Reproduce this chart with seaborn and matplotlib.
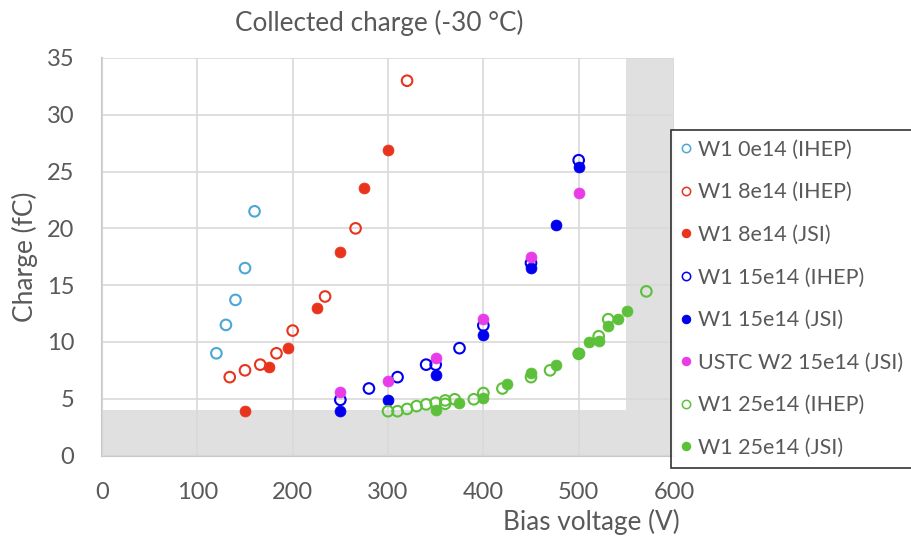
import matplotlib
matplotlib.use("Agg")
import matplotlib.pyplot as plt
import seaborn as sns
import pandas as pd
from matplotlib.lines import Line2D

# ---- data ----
w1_0e14_ihep_v = [120, 130, 140, 150, 160]
w1_0e14_ihep_q = [9.0, 11.5, 13.7, 16.5, 21.5]

w1_8e14_ihep_v = [134, 150, 166, 183, 200, 234, 266, 320]
w1_8e14_ihep_q = [6.9, 7.5, 8.0, 9.0, 11.0, 14.0, 20.0, 33.0]

w1_8e14_jsi_v = [150, 175, 195, 226, 250, 275, 300]
w1_8e14_jsi_q = [3.9, 7.75, 9.5, 13.0, 17.95, 23.55, 26.9]

w1_15e14_ihep_v = [250, 280, 310, 340, 350, 375, 400, 450, 500]
w1_15e14_ihep_q = [4.9, 5.9, 6.9, 8.0, 8.0, 9.45, 11.45, 16.95, 26.0]

w1_15e14_jsi_v = [250, 300, 350, 400, 450, 476, 500]
w1_15e14_jsi_q = [3.9, 4.9, 7.1, 10.65, 16.5, 20.3, 25.4]

ustc_w2_15e14_jsi_v = [250, 300, 350, 400, 450, 500]
ustc_w2_15e14_jsi_q = [5.6, 6.55, 8.6, 12.0, 17.45, 23.1]

w1_25e14_ihep_v = [300, 310, 320, 330, 340, 350, 360, 360, 370, 390, 400, 420, 450, 470, 500, 521, 531, 571]
w1_25e14_ihep_q = [3.9, 3.9, 4.1, 4.35, 4.5, 4.65, 4.55, 4.85, 4.95, 4.95, 5.5, 5.9, 6.9, 7.5, 8.95, 10.5, 12.0, 14.45]

w1_25e14_jsi_v = [350, 375, 400, 425, 450, 476, 500, 511, 521, 531, 541, 551]
w1_25e14_jsi_q = [4.0, 4.6, 5.05, 6.3, 7.25, 8.0, 9.05, 10.0, 10.1, 11.4, 12.0, 12.7]

series = [
    ("W1 0e14 (IHEP)", w1_0e14_ihep_v, w1_0e14_ihep_q, "#4DA6D8", False),
    ("W1 8e14 (IHEP)", w1_8e14_ihep_v, w1_8e14_ihep_q, "#E8341C", False),
    ("W1 8e14 (JSI)", w1_8e14_jsi_v, w1_8e14_jsi_q, "#E8341C", True),
    ("W1 15e14 (IHEP)", w1_15e14_ihep_v, w1_15e14_ihep_q, "#0000EE", False),
    ("W1 15e14 (JSI)", w1_15e14_jsi_v, w1_15e14_jsi_q, "#0000EE", True),
    ("USTC W2 15e14 (JSI)", ustc_w2_15e14_jsi_v, ustc_w2_15e14_jsi_q, "#E83CE8", True),
    ("W1 25e14 (IHEP)", w1_25e14_ihep_v, w1_25e14_ihep_q, "#5CC03A", False),
    ("W1 25e14 (JSI)", w1_25e14_jsi_v, w1_25e14_jsi_q, "#5CC03A", True),
]

x_ticks = [0, 100, 200, 300, 400, 500, 600]
y_ticks = [0, 5, 10, 15, 20, 25, 30, 35]

sns.set_style("white")
plt.rcParams['font.family'] = ['Lato', 'DejaVu Sans']
txt = "#595959"

fig = plt.figure(figsize=(9.12, 5.41), dpi=100)
ax = fig.add_axes([102/912, 1-455.5/541, (674-102)/912, (455.5-58)/541])

ax.axvspan(550, 600, color="#E0E0E0", zorder=0, lw=0)
ax.axhspan(0, 4, color="#E0E0E0", zorder=0, lw=0)

handles = []
for label, v, q, c, filled in series:
    df = pd.DataFrame({"v": v, "q": q})
    if filled:
        sns.scatterplot(data=df, x="v", y="q", ax=ax, s=62, color=c,
                        edgecolor=c, linewidth=0.5, zorder=3)
        h = Line2D([], [], ls="", marker="o", ms=6, mfc=c, mec=c, mew=0.8)
    else:
        sns.scatterplot(data=df, x="v", y="q", ax=ax, s=58, facecolors="none",
                        edgecolor=c, linewidth=1.5, zorder=3)
        h = Line2D([], [], ls="", marker="o", ms=6, mfc="none", mec=c, mew=1.1)
    handles.append((h, label))

ax.set_xlim(0, 600)
ax.set_ylim(0, 35)
ax.set_xticks(x_ticks)
ax.set_yticks(y_ticks)
ax.grid(True, color="#D9D9D9", lw=1.2, zorder=1)
ax.set_axisbelow(False)
for gl in ax.get_xgridlines() + ax.get_ygridlines():
    gl.set_zorder(1)
for s in ["top", "right"]:
    ax.spines[s].set_visible(False)
for s in ["left", "bottom"]:
    ax.spines[s].set_color("#C8C8C8")
    ax.spines[s].set_linewidth(1.5)
ax.tick_params(axis="x", length=0, pad=19, labelsize=17, labelcolor=txt)
ax.tick_params(axis="y", length=0, pad=20, labelsize=17, labelcolor=txt)
ax.set_xlabel("")
ax.set_ylabel("")

fig.text(379/912, 1-23/541, "Collected charge (-30 °C)", ha="center", va="center",
         fontsize=18.8, color=txt)
fig.text(591/912, 1-522/541, "Bias voltage (V)", ha="center", va="center",
         fontsize=18.8, color=txt)
fig.text(25/912, 1-257/541, "Charge (fC)", ha="center", va="center",
         rotation=90, fontsize=19, color=txt)

leg = fig.legend([h for h, _ in handles], [l for _, l in handles],
                 loc="upper left", bbox_to_anchor=(671/912, 1-130/541),
                 frameon=True, fancybox=False, fontsize=15.5, labelcolor=txt,
                 handlelength=0.5, handletextpad=0.3, labelspacing=1.05,
                 borderpad=0.45, borderaxespad=0)
leg.get_frame().set_edgecolor("black")
leg.get_frame().set_linewidth(1.2)

fig.savefig("out.png", dpi=100)
